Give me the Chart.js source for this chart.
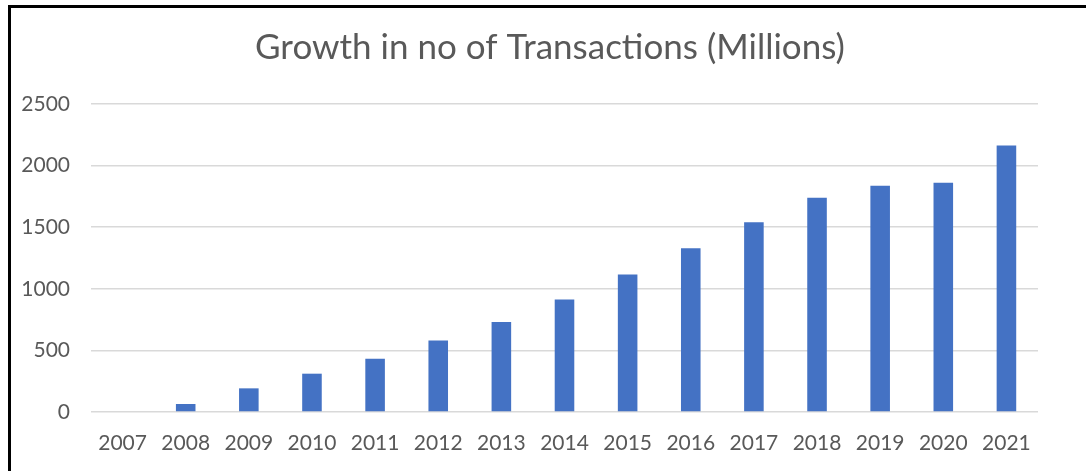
<!DOCTYPE html>
<html>
<head>
<meta charset="utf-8">
<script src="https://cdn.jsdelivr.net/npm/chart.js@4/dist/chart.umd.min.js"></script>
<style>
  html, body { margin: 0; padding: 0; background: #fff; }
  #wrap { position: relative; width: 1086px; height: 471px; }
  /* frame lines along the top and left of the chart box */
  #frame { position: absolute; left: 8px; top: 5px; right: 0; bottom: 0;
           border-top: 3px solid #000; border-left: 3px solid #000; pointer-events: none; }
  canvas { position: absolute; left: 0; top: 0; }
</style>
</head>
<body>
<div id="wrap">
  <canvas id="chart" width="1086" height="471"></canvas>
  <div id="frame"></div>
</div>
<script>
const years = ['2007', '2008', '2009', '2010', '2011', '2012', '2013', '2014',
               '2015', '2016', '2017', '2018', '2019', '2020', '2021'];
const transactions = [0, 65, 192, 311, 433, 580, 731, 913, 1116, 1330, 1541, 1739, 1837, 1861, 2164];
const yTicks = [0, 500, 1000, 1500, 2000, 2500];
const chartTitle = 'Growth in no of Transactions (Millions)';

const textGrey = '#595959';
const fontFamily = 'Lato, "Open Sans", sans-serif';

// title sits centred over the whole box (frame to right edge of gridlines), not the plot area
const boxTitle = {
  id: 'boxTitle',
  afterDraw(chart) {
    const ctx = chart.ctx;
    ctx.save();
    ctx.font = '35px ' + fontFamily;
    ctx.fillStyle = textGrey;
    ctx.textAlign = 'center';
    ctx.textBaseline = 'middle';
    ctx.fillText(chartTitle, (62 + chart.chartArea.right) / 2, 48);
    ctx.restore();
  }
};

new Chart(document.getElementById('chart'), {
  type: 'bar',
  data: {
    labels: years,
    datasets: [{
      label: 'Transactions',
      data: transactions,
      backgroundColor: '#4472C4',
      barPercentage: 0.31,
      categoryPercentage: 1
    }]
  },
  plugins: [boxTitle],
  options: {
    responsive: false,
    animation: false,
    layout: { padding: { top: 104, right: 48, bottom: 14, left: 0 } },
    plugins: {
      legend: { display: false },
      tooltip: { enabled: false },
      title: { display: false }
    },
    scales: {
      x: {
        afterFit: (scale) => { scale.height = 45; },
        grid: { display: false, drawTicks: false },
        border: { display: false },
        ticks: {
          color: textGrey,
          font: { family: fontFamily, size: 21 },
          padding: 19,
          maxRotation: 0
        }
      },
      y: {
        min: 0,
        max: yTicks[yTicks.length - 1],
        afterBuildTicks: (scale) => { scale.ticks = yTicks.map(v => ({ value: v })); },
        afterFit: (scale) => { scale.width = 91; },
        grid: { color: '#d9d9d9', lineWidth: 1.5, drawTicks: false },
        border: { display: false },
        ticks: {
          color: textGrey,
          font: { family: fontFamily, size: 21 },
          padding: 21,
          callback: (v) => String(v)
        }
      }
    }
  }
});
</script>
</body>
</html>
